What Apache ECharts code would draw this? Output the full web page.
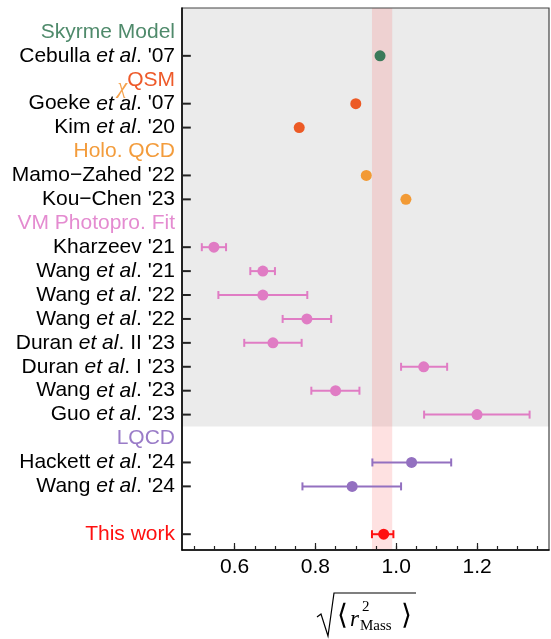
<!DOCTYPE html>
<html>
<head>
<meta charset="utf-8">
<script src="https://cdn.jsdelivr.net/npm/echarts@6/dist/echarts.min.js"></script>
<style>
html,body{margin:0;padding:0;background:#fff}
#main{width:551px;height:639px}
</style>
</head>
<body>
<div id="main"></div>
<script>
// groups (coloured headers on the y axis), last one is the blank row before "This work"
var groupNames = ['Skyrme Model', 'χQSM', 'Holo. QCD', 'VM Photopro. Fit', 'LQCD', ''];
var groupColors = ['#3b7a5a', '#ec5a25', '#f29a35', '#e07cc4', '#9370c0', '#ff1010'];
var headerColors = ['#4f8a6b', '#ee5a2a', '#f39c3c', '#e48bd0', '#9a7cc8', '#ff1010'];

var studyNames = [
  "Cebulla et al. '07",
  "Goeke et al. '07", "Kim et al. '20",
  "Mamo\u2212Zahed '22", "Kou\u2212Chen '23",
  "Kharzeev '21", "Wang et al. '21", "Wang et al. '22", "Wang et al. '22",
  "Duran et al. II '23", "Duran et al. I '23", "Wang et al. '23", "Guo et al. '23",
  "Hackett et al. '24", "Wang et al. '24",
  "This work"
];
var studyGroup = [0, 1, 1, 2, 2, 3, 3, 3, 3, 3, 3, 3, 3, 4, 4, 5];
var centralVal = [0.960, 0.900, 0.760, 0.926, 1.024, 0.549, 0.670, 0.670, 0.779, 0.695, 1.068, 0.850, 1.200, 1.038, 0.891, 0.969];
var lowVal     = [null, null, null, null, null, 0.519, 0.639, 0.560, 0.719, 0.624, 1.012, 0.790, 1.069, 0.941, 0.768, 0.940];
var highVal    = [null, null, null, null, null, 0.579, 0.700, 0.780, 0.839, 0.766, 1.126, 0.909, 1.330, 1.136, 1.012, 0.993];

var xMin = 0.47, xMax = 1.378;
var xLabelValues = [0.6, 0.8, 1.0, 1.2];
var xMinorValues = [0.5, 0.55, 0.6, 0.65, 0.7, 0.75, 0.8, 0.85, 0.9, 0.95, 1.0, 1.05, 1.1, 1.15, 1.2, 1.25, 1.3, 1.35];
var bandRange = [0.94, 0.99];

// build the rows: header row whenever the group changes
var rows = [];
var rowOf = [];
var lastGroup = -1;
studyNames.forEach(function (n, i) {
  if (studyGroup[i] !== lastGroup) {
    rows.push({header: true, group: studyGroup[i]});
    lastGroup = studyGroup[i];
  }
  rowOf[i] = rows.length;
  rows.push({header: false, group: studyGroup[i], study: i});
});
var allRows = rows.map(function (r, i) { return i; });
var grayEnd = rowOf[12] + 0.5;

function labelText(row) {
  if (row.header) {
    if (row.group === 1) return '{chi|\u03c7}{qsm|QSM}';
    if (!groupNames[row.group]) return '';
    return '{g' + row.group + '|' + groupNames[row.group] + '}';
  }
  var name = studyNames[row.study];
  if (row.group === 5) return '{red|' + name + '}';
  var k = name.indexOf('et al.');
  if (k < 0) return '{n|' + name + '}';
  return '{n|' + name.slice(0, k) + '}{i|et al}{n|.' + name.slice(k + 6) + '}';
}

var FONT = '"Liberation Sans", Arial, sans-serif';
var FS = 21;
var rich = {
  n: {color: '#000', fontSize: FS, fontFamily: FONT},
  i: {color: '#000', fontSize: FS, fontFamily: FONT, fontStyle: 'italic'},
  red: {color: '#ff1010', fontSize: FS, fontFamily: FONT},
  chi: {color: '#f5a24d', fontSize: 22, fontFamily: '"Liberation Serif", serif', fontStyle: 'italic', padding: [14, 0, 0, 0]},
  qsm: {color: headerColors[1], fontSize: FS, fontFamily: FONT}
};
[0, 2, 3, 4].forEach(function (g) {
  rich['g' + g] = {color: headerColors[g], fontSize: FS, fontFamily: FONT};
});

var errData = [];
studyNames.forEach(function (n, i) {
  if (lowVal[i] != null) errData.push([lowVal[i], highVal[i], rowOf[i], studyGroup[i]]);
});

var series = [{
  // background shading only
  type: 'line',
  z: -5,
  data: [],
  markArea: {
    silent: true,
    z: -5,
    data: [
      [{yAxis: -1, itemStyle: {color: '#ebebeb'}}, {yAxis: grayEnd}],
      [{xAxis: bandRange[0], itemStyle: {color: 'rgba(250,105,105,0.2)'}}, {xAxis: bandRange[1]}]
    ]
  }
}, {
  type: 'custom',
  z: 2,
  renderItem: function (params, api) {
    var lo = api.coord([api.value(0), api.value(2)]);
    var hi = api.coord([api.value(1), api.value(2)]);
    var c = groupColors[api.value(3)];
    var h = 4;
    var st = {stroke: c, lineWidth: 2};
    return {type: 'group', children: [
      {type: 'line', shape: {x1: lo[0], y1: lo[1], x2: hi[0], y2: hi[1]}, style: st},
      {type: 'line', shape: {x1: lo[0], y1: lo[1] - h, x2: lo[0], y2: lo[1] + h}, style: st},
      {type: 'line', shape: {x1: hi[0], y1: hi[1] - h, x2: hi[0], y2: hi[1] + h}, style: st}
    ]};
  },
  encode: {x: [0, 1], y: 2},
  data: errData
}];

for (var g = 0; g < groupNames.length; g++) {
  var pts = [];
  studyNames.forEach(function (n, i) {
    if (studyGroup[i] === g) pts.push([centralVal[i], rowOf[i]]);
  });
  series.push({
    type: 'scatter',
    z: 3,
    symbolSize: 11,
    itemStyle: {color: groupColors[g], opacity: 1},
    data: pts
  });
}

// y-axis tick marks on study rows only, drawn inside the frame
series.push({
  type: 'scatter',
  z: 20,
  clip: false,
  silent: true,
  symbol: 'rect',
  symbolSize: [8, 2],
  symbolOffset: [4, 0],
  itemStyle: {color: '#222', opacity: 1},
  data: rowOf.map(function (r) { return [xMin + 0.002, r]; })
});

var chart = echarts.init(document.getElementById('main'));
chart.setOption({
  animation: false,
  grid: {left: 182, right: 2, top: 8, bottom: 89, show: true, borderColor: '#444', borderWidth: 1.2},
  xAxis: [{
    type: 'value',
    min: xMin, max: xMax,
    axisLine: {show: true, onZero: false, lineStyle: {color: '#000', width: 1.5}},
    axisTick: {show: true, inside: true, length: 4, customValues: xMinorValues, lineStyle: {color: '#222', width: 1.2}},
    axisLabel: {customValues: xLabelValues, formatter: function (v) { return v.toFixed(1); },
      color: '#000', fontSize: FS, fontFamily: FONT, margin: 7},
    splitLine: {show: false}
  }, {
    type: 'value',
    position: 'bottom',
    min: xMin, max: xMax,
    axisLine: {show: false, onZero: false},
    axisTick: {show: true, inside: true, length: 7, customValues: xLabelValues, lineStyle: {color: '#222', width: 1.2}},
    axisLabel: {show: false},
    splitLine: {show: false}
  }],
  yAxis: {
    type: 'value',
    inverse: true,
    min: -1, max: rows.length - 1 + 0.66,
    axisLine: {show: true, onZero: false, lineStyle: {color: '#000', width: 1.5}},
    axisTick: {show: false},
    axisLabel: {customValues: allRows, margin: 7, rich: rich,
      formatter: function (v) { var r = rows[Math.round(v)]; return r ? labelText(r) : ''; }},
    splitLine: {show: false}
  },
  graphic: [
    {type: 'polyline', shape: {points: [[317, 617], [321, 614], [328, 636], [334, 593], [416, 593]]},
      style: {stroke: '#000', lineWidth: 1.2, fill: null}},
    {type: 'text', x: 337, y: 603, style: {text: '\u27e8', fontSize: 28, fontFamily: '"Liberation Serif", serif', fill: '#000'}},
    {type: 'text', x: 350, y: 608, style: {text: 'r', fontSize: 23, fontStyle: 'italic', fontFamily: '"Liberation Serif", serif', fill: '#000'}},
    {type: 'text', x: 362, y: 600, style: {text: '2', fontSize: 15, fontFamily: '"Liberation Serif", serif', fill: '#000'}},
    {type: 'text', x: 360, y: 619, style: {text: 'Mass', fontSize: 15, fontFamily: '"Liberation Serif", serif', fill: '#000'}},
    {type: 'text', x: 401, y: 603, style: {text: '\u27e9', fontSize: 28, fontFamily: '"Liberation Serif", serif', fill: '#000'}}
  ],
  series: series
});
</script>
</body>
</html>
